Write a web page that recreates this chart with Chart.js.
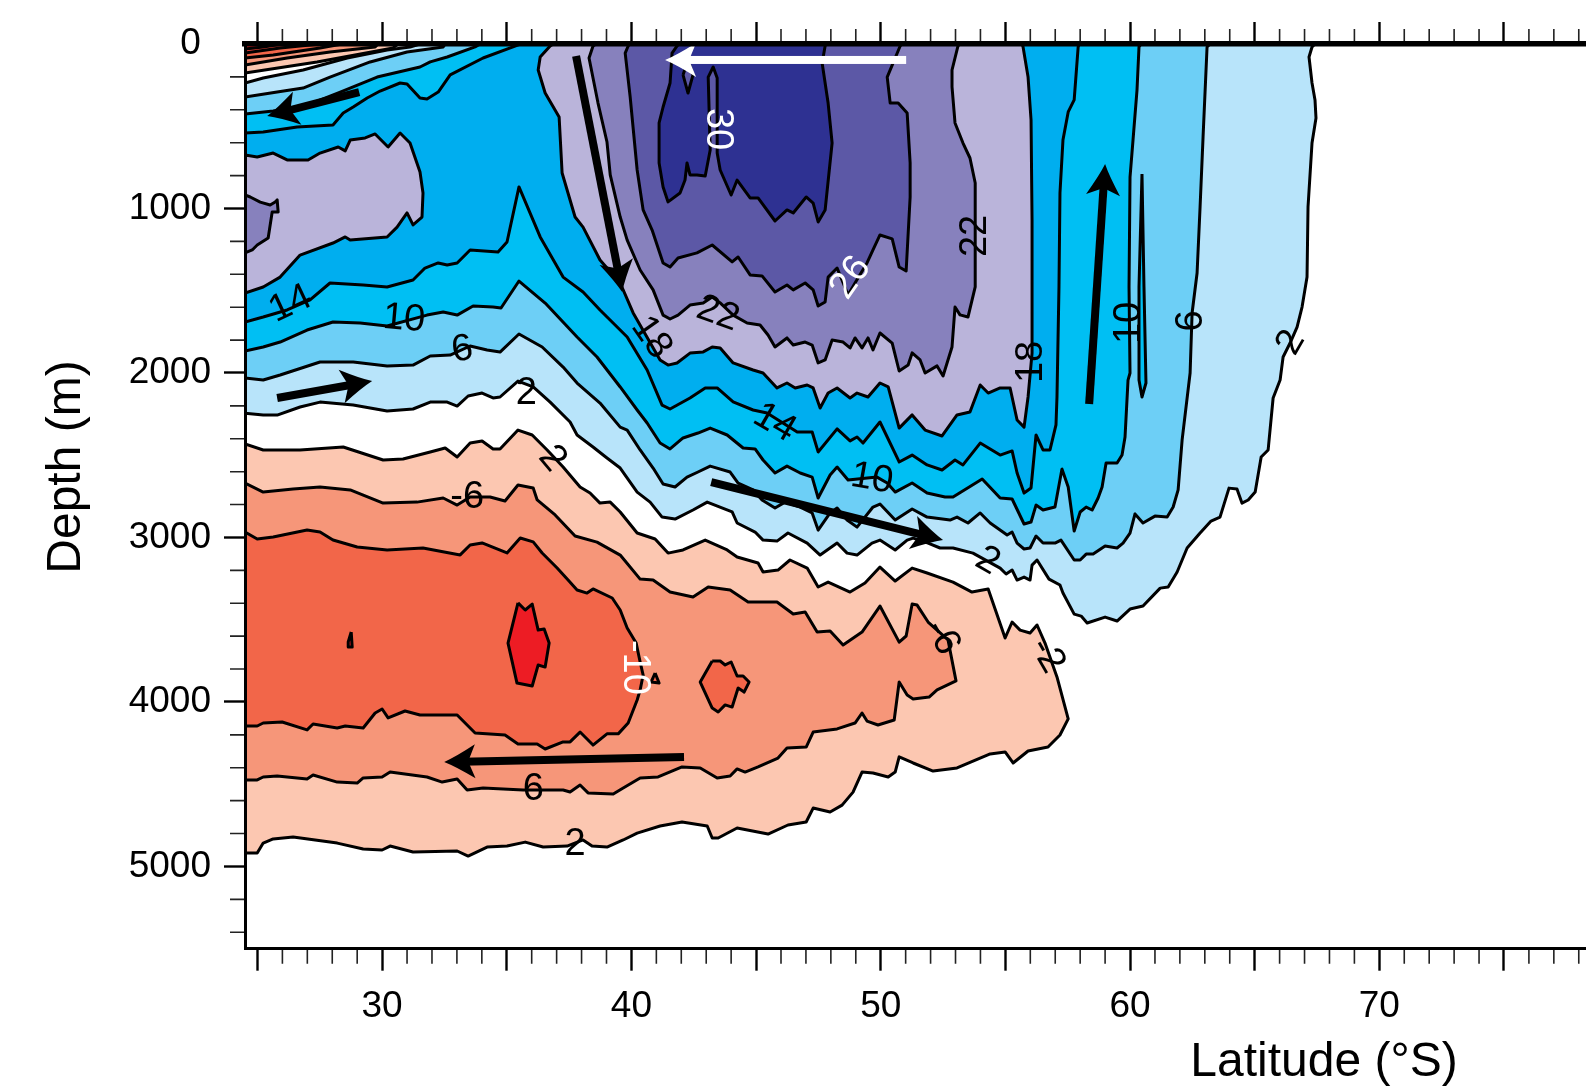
<!DOCTYPE html>
<html>
<head>
<meta charset="utf-8">
<title>Depth section</title>
<script src="https://cdn.jsdelivr.net/npm/chart.js@4"></script>
<style>
  html, body { margin: 0; padding: 0; background: #fff; }
  canvas { display: block; }
</style>
</head>
<body>
<canvas id="section" width="1586" height="1090"></canvas>
<script>
// every contour is a list of [latitude, depth]
var contour2 = [[24.5,237],[25.23,207],[26.83,158],[28.6,85],[30.2,36],[31.12,18],[31.52,0],[67.42,0],[67.3,18],[67.18,79],[67.3,237],[67.42,340],[67.46,450],[67.3,602],[67.14,991],[67.1,1417],[66.9,1599],[66.7,1721],[66.42,1818],[66.14,1903],[66.02,2043],[65.74,2152],[65.54,2468],[65.26,2511],[65.02,2724],[64.74,2772],[64.49,2791],[64.29,2706],[63.97,2700],[63.61,2876],[63.25,2900],[62.81,2973],[62.29,3064],[61.89,3210],[61.53,3301],[61.21,3308],[60.52,3417],[60,3435],[59.48,3508],[59,3484],[58.28,3520],[58.04,3478],[57.76,3466],[57.31,3338],[57.19,3289],[56.75,3253],[56.27,3137],[56.07,3168],[55.99,3259],[55.75,3241],[55.47,3259],[55.27,3198],[55.03,3222],[54.79,3186],[53.7,3095],[52.9,3064],[52.38,3064],[51.9,3034],[51.3,3004],[51.06,3016],[50.58,3076],[49.97,3016],[49.65,3034],[49.05,3107],[48.65,3095],[48.25,3034],[47.57,3107],[47.05,3034],[46.28,2973],[45.84,3022],[45.28,3016],[44.96,2967],[44.24,2912],[44.04,2845],[43.04,2785],[42.47,2833],[41.75,2888],[41.23,2876],[40.75,2785],[40.23,2724],[39.55,2578],[39.02,2517],[38.46,2450],[37.82,2377],[37.54,2298],[36.74,2177],[36.06,2085],[35.45,2049],[34.73,2146],[34.45,2152],[34.01,2122],[33.45,2140],[33.01,2201],[32.61,2177],[31.93,2177],[31.24,2219],[30.2,2231],[28.84,2195],[27.51,2177],[26.71,2207],[25.79,2256],[25.23,2256],[24.5,2244]];
var contour6 = [[24.5,322],[25.79,292],[26.83,268],[27.91,201],[29.52,109],[31,49],[32.45,18],[32.53,0],[63.21,0],[63.09,18],[62.93,565],[62.81,991],[62.69,1392],[62.49,1635],[62.41,2000],[62.09,2407],[61.93,2711],[61.73,2815],[61.49,2876],[61,2870],[60.52,2912],[60.2,2857],[60,2973],[59.72,3034],[59.48,3064],[59,3052],[58.52,3101],[58.24,3101],[58,3137],[57.76,3137],[57.23,3016],[56.99,3034],[56.51,3034],[56.23,2991],[55.99,3064],[55.75,3070],[55.47,3034],[55.27,2967],[55.07,2985],[54.39,2912],[53.99,2851],[53.5,2912],[53.06,2876],[52.78,2894],[51.86,2876],[51.26,2827],[50.58,2894],[49.97,2797],[49.69,2815],[49.05,2937],[48.65,2894],[48.25,2821],[47.97,2851],[47.49,2955],[47.25,2851],[46.77,2815],[46.16,2785],[45.76,2821],[45.24,2772],[44.88,2711],[44.28,2669],[43.96,2602],[43.16,2566],[42.67,2602],[42.23,2633],[41.75,2693],[41.27,2675],[40.87,2578],[40.35,2468],[39.83,2347],[39.55,2329],[38.74,2183],[37.82,2061],[37.26,1964],[36.42,1842],[35.49,1763],[34.73,1873],[34.21,1860],[33.53,1836],[32.73,1891],[31.93,1897],[31.24,1952],[30.2,1958],[28.84,1933],[27.51,1933],[25.91,2012],[25.23,2043],[24.5,2031]];
var contour10 = [[24.5,426],[25.63,407],[26.99,371],[28.32,292],[29.8,201],[31.52,140],[31.93,109],[32.61,79],[33.73,18],[33.93,0],[60.44,0],[60.36,18],[60.28,280],[60.12,584],[60,809],[59.96,1477],[60,2000],[59.92,2043],[59.8,2389],[59.68,2499],[59.48,2547],[59.04,2547],[58.88,2693],[58.72,2760],[58.48,2833],[58.24,2815],[58,2845],[57.76,2961],[57.52,2693],[57.27,2584],[56.99,2815],[56.51,2833],[56.23,2803],[56.03,2906],[55.75,2918],[55.27,2766],[54.79,2760],[54.07,2645],[52.9,2754],[52.58,2754],[51.86,2730],[51.26,2669],[50.58,2724],[50.26,2669],[49.85,2633],[48.69,2651],[48.25,2572],[47.97,2620],[47.49,2760],[47.25,2633],[46.77,2608],[46.24,2566],[45.76,2608],[45.28,2529],[44.96,2462],[44.48,2456],[43.84,2377],[43.16,2335],[42.67,2365],[42.07,2395],[41.55,2462],[41.15,2426],[40.63,2304],[40.23,2225],[39.55,2085],[38.62,1903],[37.82,1781],[36.54,1575],[35.49,1441],[34.77,1605],[34.45,1599],[33.65,1593],[33.01,1648],[32.45,1629],[31.8,1648],[30.2,1714],[29.12,1696],[28.03,1690],[26.99,1739],[25.91,1812],[25.23,1842],[24.5,1866]];
var contour10Sliver = [[60.48,790],[60.56,1477],[60.64,2061],[60.48,2146],[60.36,2043],[60.36,1477]];
var contour14 = [[24.5,541],[25.23,535],[26.59,505],[28.03,492],[28.44,420],[28.84,383],[29.4,328],[29.92,286],[30.72,237],[31,243],[31.52,328],[31.8,334],[32.25,292],[32.73,188],[34.05,85],[35.25,18],[35.54,0],[57.96,0],[57.92,18],[57.76,340],[57.52,413],[57.31,584],[57.19,906],[57.15,1477],[57.07,2146],[57.03,2316],[56.79,2468],[56.51,2468],[56.23,2377],[56.03,2699],[55.75,2730],[55.47,2608],[55.27,2474],[54.79,2499],[53.99,2426],[53.3,2559],[52.98,2529],[52.46,2590],[51.86,2559],[51.26,2499],[50.74,2541],[49.97,2298],[49.29,2426],[49.05,2389],[48.77,2413],[48.25,2340],[47.49,2480],[47.25,2359],[46.65,2359],[45.44,2243],[44.88,2225],[44.08,2176],[43.44,2091],[42.96,2091],[42.35,2152],[41.55,2219],[41.23,2195],[40.63,1982],[39.83,1781],[38.74,1617],[38.06,1508],[37.26,1417],[36.34,1173],[35.49,869],[35.01,1204],[34.65,1265],[33.53,1252],[33.01,1331],[32.61,1344],[32.25,1331],[31.72,1362],[31.24,1435],[30.2,1477],[29.24,1465],[27.91,1453],[27.11,1556],[26.19,1617],[25.23,1660],[24.5,1690]];
var contour18 = [[36.86,0],[36.74,12],[36.34,79],[36.26,158],[36.54,298],[37.1,444],[37.22,784],[37.74,1052],[38.06,1113],[38.74,1313],[39.55,1453],[40.07,1635],[41.15,1921],[41.47,1952],[41.83,1939],[42.35,1879],[42.88,1872],[43.24,1842],[43.56,1848],[44.08,1939],[44.88,1982],[45.28,2000],[45.84,2091],[46.24,2061],[46.57,2091],[47.05,2073],[47.29,2091],[47.57,2213],[47.89,2122],[48.25,2091],[48.77,2152],[49.05,2122],[49.49,2146],[49.97,2061],[50.3,2085],[50.74,2335],[51.26,2255],[51.78,2347],[52.46,2383],[53.06,2255],[53.58,2237],[53.99,2073],[54.31,2122],[54.79,2091],[55.19,2091],[55.47,2286],[55.75,2329],[55.91,2146],[56.07,1879],[56.07,1070],[56.03,462],[55.91,201],[55.71,18],[55.67,0]];
var contour18Left = [[24.5,1514],[25.23,1477],[25.91,1417],[26.71,1283],[28.03,1210],[28.52,1173],[28.72,1192],[30.2,1173],[30.6,1113],[31,1027],[31.24,1100],[31.6,1052],[31.64,906],[31.52,778],[31.12,602],[30.72,541],[30.24,626],[29.72,547],[29.32,571],[28.72,584],[28.52,650],[28.24,626],[27.51,663],[27.03,705],[26.19,705],[25.63,663],[24.99,687],[24.5,675]];
var contour22 = [[38.58,0],[38.46,12],[38.3,85],[38.66,359],[39.02,596],[39.15,796],[39.55,1052],[39.83,1192],[40.35,1374],[40.87,1495],[41.27,1648],[41.55,1672],[41.87,1648],[42.35,1587],[42.88,1574],[43.24,1538],[43.56,1574],[44.08,1648],[44.64,1696],[45.16,1708],[45.48,1769],[45.76,1842],[46.24,1787],[46.49,1830],[46.97,1812],[47.25,1830],[47.49,1939],[47.77,1921],[48.05,1800],[48.49,1812],[48.77,1848],[48.97,1787],[49.25,1848],[49.49,1787],[49.69,1860],[49.97,1757],[50.46,1818],[50.74,1988],[51.1,1951],[51.26,1878],[51.58,1921],[51.78,2000],[52.26,1957],[52.5,2018],[52.86,1842],[52.98,1599],[53.18,1647],[53.5,1660],[53.79,1477],[53.79,845],[53.58,693],[53.3,602],[52.98,480],[52.86,261],[52.86,158],[53.1,12],[53.18,0]];
var contour22Left = [[24.5,918],[24.71,930],[25.11,961],[25.51,979],[25.71,961],[25.79,948],[25.83,1021],[25.59,1021],[25.43,1179],[24.99,1222],[24.79,1252],[24.5,1270]];
var contour26 = [[39.95,0],[39.87,12],[39.75,55],[39.95,322],[40.23,766],[40.47,1009],[40.83,1131],[41.27,1331],[41.55,1356],[41.87,1301],[42.63,1270],[43.24,1222],[44.04,1325],[44.28,1295],[44.76,1404],[45.24,1410],[45.76,1508],[46.24,1465],[46.49,1495],[46.97,1453],[47.29,1495],[47.49,1593],[47.77,1568],[47.89,1417],[48.25,1362],[48.69,1526],[48.97,1453],[49.45,1331],[49.69,1252],[49.97,1161],[50.46,1185],[50.74,1356],[51.02,1380],[51.18,930],[51.18,723],[51.06,419],[50.7,359],[50.38,359],[50.26,201],[50.78,12],[50.86,0]];
var contour30 = [[41.91,0],[41.83,12],[41.63,55],[41.55,237],[41.27,383],[41.11,480],[41.11,723],[41.27,869],[41.47,960],[41.95,906],[42.15,827],[42.23,723],[42.35,796],[42.63,796],[42.96,802],[43.16,644],[43.08,201],[43.28,140],[43.44,207],[43.44,663],[43.56,766],[44,918],[44.24,827],[44.76,936],[45.08,936],[45.76,1076],[46.24,1009],[46.49,1027],[47.01,930],[47.29,967],[47.49,1082],[47.77,1009],[48.05,602],[47.89,359],[47.65,116],[47.77,12],[47.81,0]];
var contour26Drop = [[42.07,188],[42.27,298],[42.47,188],[42.27,97]];

var negative2 = [[24.5,2432],[25.23,2468],[26.71,2468],[28.44,2450],[30.04,2529],[30.84,2523],[31.93,2480],[32.53,2456],[33.01,2511],[33.53,2426],[34.01,2413],[34.45,2462],[34.73,2462],[35.45,2347],[36.02,2377],[36.62,2468],[37.26,2572],[37.94,2693],[38.34,2730],[38.74,2791],[39.15,2785],[39.55,2845],[40.23,2973],[40.95,3009],[41.47,3095],[42.07,3076],[42.96,3016],[43.84,3076],[44.24,3119],[45.08,3155],[45.28,3210],[45.88,3198],[46.36,3137],[47.05,3186],[47.49,3301],[47.89,3271],[48.77,3332],[49.37,3277],[49.97,3180],[50.58,3265],[51.26,3186],[51.86,3216],[52.9,3271],[53.66,3332],[54.31,3313],[54.99,3611],[55.27,3514],[55.59,3563],[55.99,3581],[56.27,3532],[56.59,3642],[57.07,3848],[57.52,4103],[57.19,4201],[56.71,4274],[55.91,4298],[55.31,4371],[54.99,4304],[54.39,4316],[53.06,4401],[52.1,4420],[51.3,4371],[50.74,4334],[50.58,4426],[50.3,4456],[49.69,4432],[49.25,4426],[48.89,4548],[48.45,4627],[47.97,4669],[47.29,4645],[47.01,4730],[46.28,4748],[45.48,4803],[44.24,4766],[43.48,4827],[43.24,4827],[43.04,4754],[42.03,4730],[41.15,4754],[40.23,4797],[39.67,4839],[39.02,4882],[38.42,4876],[38.06,4839],[37.42,4876],[36.46,4882],[35.74,4852],[35.01,4876],[34.21,4882],[33.45,4937],[33.01,4906],[31.24,4912],[30.32,4876],[30,4900],[29.24,4894],[28.2,4858],[26.43,4821],[25.63,4833],[25.23,4858],[24.99,4918],[24.5,4918]];
var negative6 = [[24.5,2669],[25.23,2724],[26.43,2705],[27.51,2693],[28.72,2711],[30.04,2791],[31.4,2785],[32.45,2760],[33.01,2803],[33.53,2754],[34.33,2754],[34.93,2778],[35.45,2681],[36.06,2699],[36.22,2772],[36.94,2863],[37.74,2991],[38.62,3028],[39.55,3107],[40.35,3253],[40.87,3259],[41.55,3332],[42.47,3362],[43.08,3301],[43.96,3319],[44.68,3392],[45.84,3392],[46.49,3465],[46.97,3453],[47.45,3575],[47.97,3569],[48.49,3654],[49.25,3575],[49.97,3417],[50.74,3636],[51.02,3599],[51.26,3405],[51.46,3411],[51.9,3514],[52.7,3623],[53.02,3872],[52.26,3927],[51.94,3970],[51.3,3982],[51.06,3958],[50.74,3879],[50.54,4110],[49.89,4140],[49.45,4116],[49.25,4067],[48.97,4128],[48.25,4164],[47.29,4183],[47.01,4274],[46.24,4280],[45.88,4341],[45.08,4395],[44.56,4426],[44.24,4407],[43.96,4450],[43.44,4462],[42.76,4401],[42.03,4395],[41.07,4456],[40.35,4462],[39.67,4523],[39.27,4560],[38.26,4553],[37.94,4505],[37.54,4547],[37.26,4535],[35.66,4535],[34.05,4523],[33.41,4535],[33.01,4468],[32.41,4487],[31.8,4456],[30.32,4426],[30,4456],[29.24,4462],[29,4493],[28.2,4487],[27.23,4444],[26.99,4468],[25.79,4450],[25.23,4456],[24.99,4474],[24.5,4474]];
var negative10 = [[24.5,2967],[24.99,3009],[25.63,2997],[26.99,2955],[27.51,2967],[28.03,3015],[29,3058],[30.2,3076],[31.64,3064],[33.13,3106],[33.53,3046],[34.01,3033],[35.01,3094],[35.54,3003],[36.06,3027],[36.42,3094],[37.02,3186],[37.46,3258],[37.82,3319],[38.22,3338],[38.46,3313],[39.23,3368],[39.55,3441],[39.83,3550],[40.19,3642],[40.35,3757],[40.47,3836],[40.35,3927],[40.23,3988],[39.87,4128],[39.47,4194],[39.02,4194],[38.46,4262],[37.94,4183],[37.54,4243],[37.26,4243],[36.54,4286],[36.22,4256],[35.45,4256],[34.93,4201],[33.73,4189],[33.01,4079],[31.52,4079],[30.92,4055],[30.24,4097],[30,4043],[29.72,4067],[29.24,4158],[28.52,4146],[28.2,4158],[27.23,4134],[26.99,4170],[25.99,4122],[25.23,4128],[24.99,4146],[24.5,4146]];
var negative10Island = [[43.24,3751],[43.56,3751],[43.76,3775],[44,3757],[44.24,3842],[44.48,3842],[44.72,3879],[44.52,3940],[44.28,3915],[44.04,4031],[43.76,4018],[43.48,4061],[43.24,4037],[42.76,3879]];
var negative10Speck = [[40.95,3824],[41.11,3885],[40.79,3879]];
var negative14 = [[35.45,3398],[35.74,3441],[36.02,3405],[36.26,3563],[36.5,3557],[36.7,3642],[36.54,3788],[36.26,3775],[36.02,3903],[35.41,3885],[35.05,3642]];
var negative14Speck = [[28.76,3575],[28.8,3666],[28.64,3666],[28.64,3635]];

// the wedge of tight contours in the top left corner
var cornerBand1 = [[24.5,176],[27.39,109],[30.44,24],[30.64,0],[24.5,0]];
var cornerBand2 = [[24.5,128],[26.19,85],[27.91,49],[29.72,18],[29.84,0],[24.5,0]];
var cornerBand3 = [[24.5,85],[25.63,67],[27.51,24],[28.4,0],[24.5,0]];
var cornerBand4 = [[24.5,55],[25.91,24],[27.51,0],[24.5,0]];
var cornerBand5 = [[24.5,30],[25.23,18],[26,0],[24.5,0]];

var latMajorTicks = [25, 30, 35, 40, 45, 50, 55, 60, 65, 70, 75];
var latLabelled = [30, 40, 50, 60, 70];
var latMinorTicks = [26, 27, 28, 29, 31, 32, 33, 34, 36, 37, 38, 39, 41, 42, 43, 44, 46, 47, 48, 49, 51, 52, 53, 54, 56, 57, 58, 59, 61, 62, 63, 64, 66, 67, 68, 69, 71, 72, 73, 74, 76, 77, 78];
var depthMajorTicks = [0, 1000, 2000, 3000, 4000, 5000];
var depthMinorTicks = [200, 400, 600, 800, 1200, 1400, 1600, 1800, 2200, 2400, 2600, 2800, 3200, 3400, 3600, 3800, 4200, 4400, 4600, 4800, 5200, 5400];

// [text, latitude, depth, rotation in degrees, colour]
var contourLabels = [
    ['30', 43.48, 517, 90, '#fff'],
    ['26', 48.77, 1417, -55, '#fff'],
    ['22', 43.48, 1635, 20, '#000'],
    ['22', 53.75, 1167, -90, '#000'],
    ['18', 40.83, 1781, 55, '#000'],
    ['18', 55.99, 1933, -90, '#000'],
    ['14', 26.31, 1575, -25, '#000'],
    ['10', 30.88, 1666, 5, '#000'],
    ['6', 33.21, 1854, -10, '#000'],
    ['2', 35.78, 2116, 0, '#000'],
    ['2', 36.86, 2517, 50, '#000'],
    ['-6', 33.41, 2754, 0, '#000'],
    ['14', 45.76, 2298, 30, '#000'],
    ['10', 49.65, 2638, 10, '#000'],
    ['2', 54.31, 3137, 30, '#000'],
    ['-6', 52.5, 3605, 60, '#000'],
    ['-2', 56.71, 3714, 60, '#000'],
    ['-10', 40.15, 3790, 90, '#fff'],
    ['6', 36.06, 4529, 0, '#000'],
    ['2', 37.74, 4863, 0, '#000'],
    ['10', 59.92, 1696, -90, '#000'],
    ['6', 62.41, 1684, -90, '#000'],
    ['2', 66.42, 1812, -60, '#000']
];

// [tail latitude, tail depth, tip latitude, tip depth, colour]
var flowArrows = [
    [29.08, 292, 25.39, 438, '#000'],
    [37.78, 73, 39.63, 1508, '#000'],
    [51.02, 97, 41.35, 97, '#fff'],
    [58.36, 2189, 59, 730, '#000'],
    [25.79, 2152, 29.6, 2049, '#000'],
    [43.2, 2663, 52.5, 3016, '#000'],
    [42.11, 4335, 32.49, 4365, '#000']
];

// back to front
var layers = [
    [contour2, '#b8e4fa'],
    [contour6, '#6dcff6'],
    [contour10, '#00bff3'],
    [contour10Sliver, '#00bff3'],
    [contour14, '#00aeef'],
    [contour18, '#bab4da'],
    [contour18Left, '#bab4da'],
    [contour22, '#8781bd'],
    [contour22Left, '#8781bd'],
    [contour26, '#5c58a6'],
    [contour30, '#2e3192'],
    [contour26Drop, '#5c58a6'],
    [negative2, '#fcc7b1'],
    [negative6, '#f69679'],
    [negative10, '#f26649'],
    [negative10Island, '#f26649'],
    [negative10Speck, '#f26649'],
    [negative14, '#ed1c24'],
    [negative14Speck, '#ed1c24'],
    [cornerBand1, '#fcc7b1'],
    [cornerBand2, '#f69679'],
    [cornerBand3, '#f26649'],
    [cornerBand4, '#ef4136'],
    [cornerBand5, '#ed1c24']
];

var datasets = layers.map(function(layer, i) {
    return {
        data: layer[0].concat([layer[0][0]]),
        backgroundColor: layer[1],
        borderColor: '#000',
        borderWidth: 3,
        borderJoinStyle: 'round',
        fill: 'shape',
        showLine: true,
        tension: 0,
        pointRadius: 0,
        order: layers.length - i
    };
});

var FONT = '"Liberation Sans", Arial, sans-serif';

var overlay = {
    id: 'overlay',
    afterDatasetsDraw: function(chart) {
        var ctx = chart.ctx;
        var x = chart.scales.x;
        var y = chart.scales.y;
        var area = chart.chartArea;

        // minor ticks
        ctx.save();
        ctx.strokeStyle = '#222';
        ctx.lineWidth = 1.6;
        ctx.beginPath();
        latMinorTicks.forEach(function(v) {
            var px = x.getPixelForValue(v);
            ctx.moveTo(px, area.top);
            ctx.lineTo(px, area.top - 15);
            ctx.moveTo(px, area.bottom);
            ctx.lineTo(px, area.bottom + 15);
        });
        depthMinorTicks.forEach(function(v) {
            var py = y.getPixelForValue(v);
            ctx.moveTo(area.left, py);
            ctx.lineTo(area.left - 15, py);
        });
        ctx.stroke();
        ctx.restore();

        // arrows
        flowArrows.forEach(function(a) {
            var x0 = x.getPixelForValue(a[0]), y0 = y.getPixelForValue(a[1]);
            var x1 = x.getPixelForValue(a[2]), y1 = y.getPixelForValue(a[3]);
            var len = Math.sqrt((x1 - x0) * (x1 - x0) + (y1 - y0) * (y1 - y0));
            ctx.save();
            ctx.translate(x1, y1);
            ctx.rotate(Math.atan2(y1 - y0, x1 - x0));
            ctx.fillStyle = a[4];
            ctx.fillRect(-len, -4, len - 18, 8);
            ctx.beginPath();
            ctx.moveTo(0, 0);
            ctx.quadraticCurveTo(-12, -5, -31, -17);
            ctx.lineTo(-24, 0);
            ctx.lineTo(-31, 17);
            ctx.quadraticCurveTo(-12, 5, 0, 0);
            ctx.fill();
            ctx.restore();
        });

        // contour labels
        contourLabels.forEach(function(l) {
            ctx.save();
            ctx.translate(x.getPixelForValue(l[1]), y.getPixelForValue(l[2]));
            ctx.rotate(l[3] * Math.PI / 180);
            ctx.font = '38px ' + FONT;
            ctx.fillStyle = l[4];
            ctx.textAlign = 'center';
            ctx.textBaseline = 'middle';
            ctx.fillText(l[0], 0, 1);
            ctx.restore();
        });

        // axis titles sit off centre in the original
        ctx.save();
        ctx.fillStyle = '#000';
        ctx.font = '48px ' + FONT;
        ctx.textAlign = 'center';
        ctx.textBaseline = 'middle';
        ctx.fillText('Latitude (°S)', 1324, 1063);
        ctx.translate(67, 467);
        ctx.rotate(-Math.PI / 2);
        ctx.fillText('Depth (m)', 0, 0);
        ctx.restore();
    }
};

var chart = new Chart(document.getElementById('section'), {
    type: 'scatter',
    data: { datasets: datasets },
    plugins: [overlay],
    options: {
        responsive: false,
        animation: false,
        events: [],
        devicePixelRatio: 1,
        layout: { padding: 0 },
        plugins: { legend: { display: false }, title: { display: false }, tooltip: { enabled: false } },
        scales: {
            x: {
                type: 'linear',
                position: 'bottom',
                min: 24.5,
                max: 78.29,
                afterFit: function(s) { s.height = 141.3; },
                afterBuildTicks: function(s) { s.ticks = latMajorTicks.map(function(v) { return { value: v }; }); },
                grid: { drawOnChartArea: false, tickLength: 22, tickWidth: 2.4, tickColor: '#000' },
                border: { color: '#000', width: 3, z: 1 },
                ticks: {
                    autoSkip: false,
                    maxRotation: 0,
                    padding: 14,
                    color: '#000',
                    font: { family: FONT, size: 37 },
                    callback: function(v) { return latLabelled.indexOf(v) >= 0 ? String(v) : ''; }
                }
            },
            x2: {
                type: 'linear',
                position: 'top',
                min: 24.5,
                max: 78.29,
                afterFit: function(s) { s.height = 44; },
                afterBuildTicks: function(s) { s.ticks = latMajorTicks.map(function(v) { return { value: v }; }); },
                grid: { drawOnChartArea: false, tickLength: 22, tickWidth: 2.4, tickColor: '#000' },
                border: { color: '#000', width: 5.5, z: 1 },
                ticks: { display: false }
            },
            y: {
                type: 'linear',
                position: 'left',
                reverse: true,
                min: 0,
                max: 5500,
                afterFit: function(s) { s.width = 245; },
                afterBuildTicks: function(s) { s.ticks = depthMajorTicks.map(function(v) { return { value: v }; }); },
                grid: {
                    drawOnChartArea: false,
                    tickLength: 21,
                    tickWidth: 2.4,
                    tickColor: function(c) { return c.tick && c.tick.value === 0 ? 'rgba(0,0,0,0)' : '#000'; }
                },
                border: { color: '#000', width: 3, z: 1 },
                ticks: {
                    padding: 13,
                    color: '#000',
                    font: { family: FONT, size: 37 },
                    // the zero sits a little in from the other labels
                    callback: function(v) { return v === 0 ? '0 ' : String(v); }
                }
            }
        }
    }
});
</script>
</body>
</html>
